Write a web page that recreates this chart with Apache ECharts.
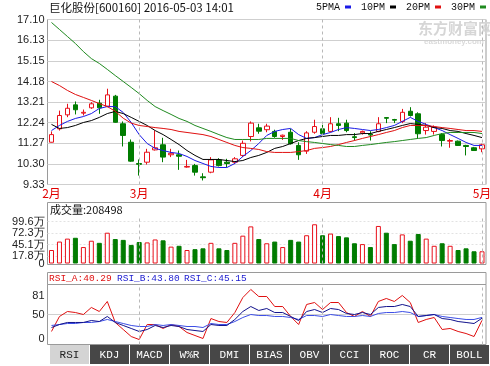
<!DOCTYPE html>
<html><head><meta charset="utf-8">
<script src="https://cdn.jsdelivr.net/npm/echarts@6/dist/echarts.min.js"></script>
<style>html,body{margin:0;padding:0;background:#fff}#c{width:490px;height:366px}</style>
</head><body><div id="c"></div>
<script>
// ---------- data ----------
const dates = ['2016-02-15','2016-02-16','2016-02-17','2016-02-18','2016-02-19','2016-02-22','2016-02-23','2016-02-24','2016-02-25','2016-02-26','2016-02-29',
'2016-03-01','2016-03-02','2016-03-03','2016-03-04','2016-03-07','2016-03-08','2016-03-09','2016-03-10','2016-03-11','2016-03-14','2016-03-15','2016-03-16','2016-03-17','2016-03-18','2016-03-21','2016-03-22','2016-03-23','2016-03-24','2016-03-25','2016-03-28','2016-03-29','2016-03-30','2016-03-31',
'2016-04-01','2016-04-05','2016-04-06','2016-04-07','2016-04-08','2016-04-11','2016-04-12','2016-04-13','2016-04-14','2016-04-15','2016-04-18','2016-04-19','2016-04-20','2016-04-21','2016-04-22','2016-04-25','2016-04-26','2016-04-27','2016-04-28','2016-04-29',
'2016-05-03'];
const monthTicks = ['2016-02-15','2016-03-01','2016-04-01','2016-05-03'];
const monthNames = ['2月','3月','4月','5月'];

const open  = [11.32,11.95,12.61,13.08,12.69,12.94,13.16,13.02,13.49,12.19,11.32,10.32,10.38,10.96,11.20,10.73,10.73,10.15,10.22,9.69,9.91,10.49,10.38,10.38,10.70,11.59,12.00,11.91,11.83,11.59,11.79,11.17,10.90,11.79,11.95,11.83,12.19,12.22,11.58,11.76,11.70,11.83,12.48,12.39,12.30,12.78,12.66,11.87,11.83,11.68,11.37,11.37,11.17,11.06,11.01];
const close = [11.68,12.58,12.92,12.85,12.73,13.13,12.94,13.55,12.26,11.64,10.43,10.28,10.85,11.06,10.62,10.80,10.66,10.18,9.91,9.65,10.49,10.22,10.32,10.54,11.27,12.22,11.84,12.08,11.59,11.65,11.25,10.73,11.76,12.06,11.72,12.19,12.11,11.87,11.54,11.83,11.66,12.19,12.45,12.36,12.73,12.58,11.72,12.03,12.03,11.40,11.40,11.17,11.12,10.93,11.20];
const low   = [11.31,11.87,12.50,12.63,12.58,12.89,12.66,12.97,12.24,11.12,10.40,9.75,10.27,10.93,10.38,10.62,10.02,10.12,9.75,9.52,9.86,10.18,10.14,10.30,10.62,11.36,11.72,11.79,11.53,11.43,11.21,10.49,10.77,11.72,11.64,11.79,11.84,11.79,11.40,11.68,11.40,11.79,12.22,12.22,12.22,12.53,11.48,11.68,11.68,11.12,11.06,11.15,10.70,10.91,10.85];
const high  = [11.83,12.81,13.13,13.24,12.86,13.21,13.32,13.84,13.55,12.30,11.45,10.51,11.01,11.87,11.53,11.01,10.93,10.49,10.30,9.86,10.62,10.57,10.54,10.62,11.40,12.30,12.19,12.19,11.91,11.68,11.95,11.32,11.84,12.38,12.14,12.50,12.47,12.38,11.75,11.87,11.84,12.50,12.50,12.42,12.89,12.97,12.73,12.22,12.11,11.75,11.48,11.40,11.20,11.10,11.25];

const ma5  = [11.87,12.11,12.30,12.44,12.53,12.67,12.91,13.00,13.00,12.72,12.25,11.68,11.26,11.03,10.93,10.84,10.79,10.65,10.46,10.32,10.18,10.13,10.13,10.32,10.65,10.93,11.26,11.64,11.83,11.92,11.97,11.68,11.50,11.54,11.68,11.78,11.92,12.01,11.97,11.92,11.87,11.92,12.01,12.11,12.30,12.49,12.30,12.16,12.01,11.87,11.68,11.50,11.31,11.17,11.17];
const ma10 = [12.16,11.97,12.01,12.11,12.25,12.34,12.49,12.67,12.77,12.67,12.49,12.30,12.11,11.87,11.68,11.45,11.21,10.93,10.70,10.51,10.51,10.51,10.46,10.41,10.46,10.60,10.70,10.84,11.03,11.12,11.26,11.40,11.50,11.54,11.59,11.64,11.64,11.68,11.68,11.73,11.73,11.83,11.92,12.01,12.11,12.20,12.16,12.11,12.01,11.97,11.87,11.83,11.73,11.64,11.54];
const ma20 = [14.18,13.99,13.76,13.57,13.43,13.29,13.14,13.00,12.78,12.45,12.22,12.11,12.06,12.01,11.97,11.92,11.83,11.78,11.73,11.68,11.59,11.45,11.31,11.17,11.07,11.03,10.98,10.88,10.84,10.84,10.84,10.88,10.93,11.03,11.07,11.12,11.21,11.31,11.40,11.50,11.59,11.68,11.78,11.87,12.01,12.11,12.11,12.11,12.06,12.01,11.97,11.92,11.87,11.87,11.83];
const ma30 = [16.96,16.63,16.30,15.97,15.59,15.26,15.03,14.75,14.46,14.18,13.90,13.61,13.29,13.00,12.81,12.63,12.44,12.30,12.11,11.97,11.83,11.68,11.54,11.45,11.45,11.45,11.45,11.50,11.50,11.50,11.50,11.40,11.35,11.31,11.26,11.21,11.17,11.12,11.12,11.17,11.21,11.26,11.31,11.35,11.40,11.45,11.50,11.54,11.64,11.73,11.78,11.78,11.78,11.78,11.73];

const vol = [32,52,59,61,39,54,49,73,58,56,44,51,50,57,55,40,42,32,34,36,49,36,32,49,66,88,58,48,52,39,56,52,67,93,67,71,65,62,48,46,39,89,73,46,69,54,70,59,42,48,42,32,36,29,29];

const rsiA = [21.7,46.7,55,53.3,50,61.7,55,71.7,36.7,25,13.3,8.3,33.3,33.3,26.7,33.3,30,20,15,10,43.3,38.3,36.7,53.3,78.3,91.7,80,80,63.3,63.3,46.7,33.3,66.7,70,58.3,70,70,53.3,46.7,55,46.7,71.7,76.7,71.7,81.7,70,36.7,41.7,45,25,26.7,21.7,18.3,13.3,40.29];
const rsiB = [28.3,33.3,36.7,36.7,36.7,40,38.3,46.7,36.7,31.7,26.7,21.7,25,31.7,28.3,31.7,30,25,23.3,21.7,33.3,31.7,31.7,41.7,55,63.3,56.7,60,53.3,53.3,46.7,40,55,58.3,53.3,60,58.3,51.7,50,53.3,50,61.7,63.3,63.3,66.7,63.3,46.7,48.3,50,43.3,41.7,38.3,36.7,35,43.80];
const rsiC = [31.7,33.3,35,35,36.7,36.7,38.3,41.7,38.3,35,31.7,30,30,33.3,31.7,33.3,31.7,30,30,28.3,35,33.3,33.3,38.3,45,50,48.3,48.3,46.7,46.7,45,41.7,48.3,48.3,46.7,50,48.3,46.7,46.7,48.3,46.7,51.7,53.3,53.3,55,53.3,46.7,48.3,50,46.7,45,43.3,41.7,41.7,45.15];

const priceTicks = [9.33,10.30,11.27,12.24,13.21,14.18,15.15,16.13,17.10];
const volTicks = [17.8,45.1,72.3,99.6];
const volZeroTick = [0];
const rsiTicks = [0,50,81];
const lastVolume = '208498';
const tabNames = ['RSI','KDJ','MACD','W%R','DMI','BIAS','OBV','CCI','ROC','CR','BOLL'];

// ---------- chart ----------
const UP = '#e8101a', DOWN = '#007c00';
const GL = 47.5, GW = 438.5;
const VMAX = 106.7;
const chart = echarts.init(document.getElementById('c'), null, {renderer:'canvas', width:490, height:366});

const candleData = dates.map((d,i)=>[open[i], close[i], low[i], high[i]]);
const volData = vol.map((v,i)=>({value:v, itemStyle: close[i] >= open[i]
  ? {color:'#fff', borderColor:UP, borderWidth:1}
  : {color:DOWN, borderColor:DOWN, borderWidth:1}}));
const monthLines = {symbol:'none', silent:true, animation:false, label:{show:false},
  lineStyle:{type:[3,3], color:'#b8b8b8', width:1},
  data: monthTicks.slice(1).map(d=>({xAxis:d}))};

function catAxis(idx, showLabel){
  return {type:'category', gridIndex:idx, data:dates, boundaryGap:true,
    axisLine:{show:false}, axisTick:{show:false}, splitLine:{show:false},
    axisLabel: showLabel ? {interval:(i,v)=>monthTicks.indexOf(v)>=0,
      formatter:v=>monthNames[monthTicks.indexOf(v)], color:'#e00000', fontSize:12,
      fontFamily:'Noto Sans CJK SC', margin:3} : {show:false}};
}
const lbl = {color:'#222', fontSize:11, fontFamily:'Liberation Sans', margin:3, hideOverlap:false, showMinLabel:true, showMaxLabel:true};

const tabs = tabNames.map((t,i)=>({type:'group', x:50+40*i, y:345, children:[
  {type:'rect', shape:{x:0,y:0,width:39,height:19}, style:{fill: i===0?'#d4d4d4':'#474747'}},
  {type:'text', x:19.5, y:10, style:{text:t, fill: i===0?'#222':'#fff', font:'11px "Liberation Mono"', align:'center', verticalAlign:'middle'}}
]}));

const option = {
  animation:false,
  backgroundColor:'#fff',
  textStyle:{fontFamily:'Liberation Sans'},
  title:{text:'巨化股份[600160] 2016-05-03 14:01', left:49, top:2, padding:0,
    textStyle:{fontSize:11.5, fontWeight:'normal', color:'#111', fontFamily:'Noto Sans CJK SC'}},
  legend:{data:['5PMA','10PM','20PM','30PM'], right:4, top:2, padding:0, align:'right', icon:'rect',
    itemWidth:6, itemHeight:3, itemGap:10, selectedMode:false,
    textStyle:{fontSize:10, color:'#111', fontFamily:'Liberation Mono', padding:0}},
  grid:[
    {left:GL, top:19.5, width:GW, height:165, show:true, borderColor:'#9a9a9a', borderWidth:1, outerBoundsMode:'none'},
    {left:GL, top:218.5, width:GW, height:45, show:false, outerBoundsMode:'none'},
    {left:GL, top:284.5, width:GW, height:60, show:true, borderColor:'#9a9a9a', borderWidth:1, outerBoundsMode:'none'}
  ],
  xAxis:[catAxis(0,true), catAxis(1,false), catAxis(2,false)],
  yAxis:[
    {type:'value', gridIndex:0, min:9.33, max:17.10, position:'left', axisLine:{show:false},
      axisTick:{show:false, customValues:priceTicks},
      axisLabel:Object.assign({customValues:priceTicks, formatter:v=>v.toFixed(2)}, lbl),
      splitLine:{show:true, lineStyle:{color:'#cfcfcf', width:1}}},
    {type:'value', gridIndex:1, min:0, max:VMAX, position:'left', offset:0, axisLine:{show:false},
      axisTick:{show:false, customValues:volTicks},
      axisLabel:Object.assign({}, lbl, {customValues:volTicks, formatter:v=>v+'万'}),
      splitLine:{show:true, lineStyle:{color:'#e2e2e2', width:1, type:[2,2]}}},
    {type:'value', gridIndex:2, min:0, max:100, position:'left', axisLine:{show:false},
      axisTick:{show:false, customValues:[50]},
      axisLabel:Object.assign({customValues:rsiTicks, verticalAlignMinLabel:'bottom'}, lbl),
      splitLine:{show:true, lineStyle:{color:'#cfcfcf', width:1}}},
    {type:'value', gridIndex:1, min:0, max:VMAX, position:'left', offset:0, axisLine:{show:false},
      axisTick:{show:false, customValues:volZeroTick},
      axisLabel:Object.assign({}, lbl, {customValues:volZeroTick, formatter:v=>String(v)}),
      splitLine:{show:false}}
  ],
  series:[
    {type:'candlestick', name:'K', xAxisIndex:0, yAxisIndex:0, data:candleData, barWidth:5, z:2,
      itemStyle:{color:'#fff', color0:DOWN, borderColor:UP, borderColor0:DOWN, borderWidth:1},
      markLine:monthLines},
    {type:'line', name:'5PMA', xAxisIndex:0, yAxisIndex:0, data:ma5, symbol:'none', z:3, color:'#1a1ae6', lineStyle:{width:1, color:'#1a1ae6'}},
    {type:'line', name:'10PM', xAxisIndex:0, yAxisIndex:0, data:ma10, symbol:'none', z:3, color:'#000', lineStyle:{width:1, color:'#000'}},
    {type:'line', name:'20PM', xAxisIndex:0, yAxisIndex:0, data:ma20, symbol:'none', z:3, color:'#e01010', lineStyle:{width:1, color:'#e01010'}},
    {type:'line', name:'30PM', xAxisIndex:0, yAxisIndex:0, data:ma30, symbol:'none', z:3, color:'#1f8a1f', lineStyle:{width:1, color:'#1f8a1f'}},
    {type:'bar', name:'VOL', xAxisIndex:1, yAxisIndex:1, data:volData, barWidth:5, markLine:monthLines},
    {type:'line', name:'RSI_A', xAxisIndex:2, yAxisIndex:2, data:rsiA, symbol:'none', color:'#e01010', lineStyle:{width:1, color:'#e01010'}, markLine:monthLines},
    {type:'line', name:'RSI_C', xAxisIndex:2, yAxisIndex:2, data:rsiC, symbol:'none', color:'#3c4ee6', lineStyle:{width:1, color:'#3c4ee6'}},
    {type:'line', name:'RSI_B', xAxisIndex:2, yAxisIndex:2, data:rsiB, symbol:'none', color:'#12128c', lineStyle:{width:1, color:'#12128c'}}
  ],
  graphic:[
    {type:'text', x:418, y:21, style:{text:'东方财富网', fill:'#d6d6d6', font:'bold 15px "Noto Sans CJK SC"'}},
    {type:'text', x:424, y:38, style:{text:'eastmoney.com', fill:'#dadada', font:'bold 8px "Liberation Sans"'}},
    {type:'rect', shape:{x:47.5, y:202.5, width:438.5, height:62}, style:{fill:'none', stroke:'#9a9a9a', lineWidth:1}},
    {type:'text', x:50, y:204, style:{text:'成交量:'+lastVolume, fill:'#111', font:'11px "Noto Sans CJK SC"'}},
    {type:'rect', shape:{x:47.5, y:272.5, width:438.5, height:12}, style:{fill:'none', stroke:'#9a9a9a', lineWidth:1}},
    {type:'text', x:49, y:273, style:{text:'RSI_A:40.29', fill:'#e01010', font:'9.5px "Liberation Mono"'}},
    {type:'text', x:117, y:273, style:{text:'RSI_B:43.80', fill:'#1a1ad0', font:'9.5px "Liberation Mono"'}},
    {type:'text', x:184, y:273, style:{text:'RSI_C:45.15', fill:'#1a1ad0', font:'9.5px "Liberation Mono"'}},
    ...tabs
  ]
};
chart.setOption(option);
</script></body></html>
